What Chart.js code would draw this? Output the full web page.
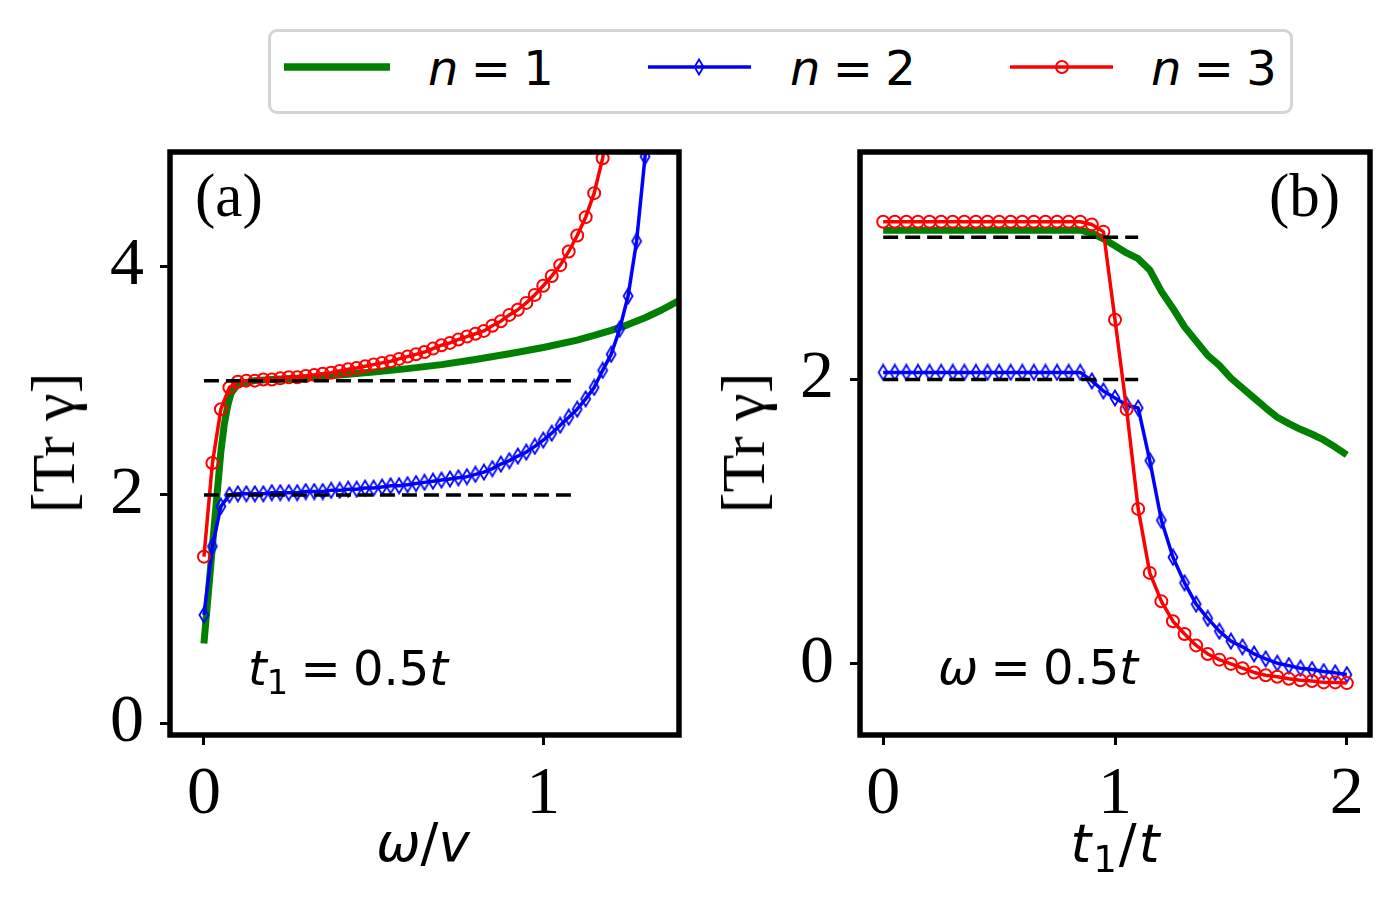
<!DOCTYPE html>
<html><head><meta charset="utf-8">
<script src="https://cdn.jsdelivr.net/npm/chart.js"></script>
<style>
html,body{margin:0;padding:0;background:#fff;}
#wrap{position:relative;width:1400px;height:908px;overflow:hidden;background:#fff;}
canvas{position:absolute;left:0;top:0;}
.t{position:absolute;white-space:nowrap;line-height:1;color:#000;}
.serif{font-family:"Liberation Serif","Times New Roman",serif;}
.sans{font-family:"DejaVu Sans",sans-serif;}
.sub{font-size:0.7em;position:relative;top:0.27em;font-style:normal;}
.ylab{position:absolute;white-space:nowrap;line-height:1;font-family:"Liberation Serif",serif;font-size:62px;transform:translate(-50%,-50%) rotate(-90deg);}
#legend{position:absolute;left:268px;top:29px;width:1025px;height:85px;box-sizing:border-box;border:3px solid #d4d4d4;border-radius:9px;background:#fff;}
.leg{font-size:48px;word-spacing:-3px;}
</style></head>
<body>
<div id="wrap">
  <canvas id="ca" width="1400" height="908"></canvas>
  <canvas id="cb" width="1400" height="908"></canvas>
  <div id="legend"></div>
  <svg style="position:absolute;left:0;top:0" width="1400" height="130">
    <line x1="284" y1="67" x2="390" y2="67" stroke="#008000" stroke-width="7.5"/>
    <line x1="648" y1="67" x2="751" y2="67" stroke="#0000ff" stroke-width="3.5"/>
    <polygon points="699,59.5 703.5,67 699,74.5 694.5,67" fill="none" stroke="#0000ff" stroke-width="1.8"/>
    <line x1="1010" y1="67" x2="1113" y2="67" stroke="#ff0000" stroke-width="3.5"/>
    <circle cx="1062" cy="67" r="6" fill="none" stroke="#ff0000" stroke-width="2"/>
  </svg>
  <div class="t sans leg" style="left:428px;top:44px"><i>n</i> = 1</div>
  <div class="t sans leg" style="left:790px;top:44px"><i>n</i> = 2</div>
  <div class="t sans leg" style="left:1151px;top:44px"><i>n</i> = 3</div>

  <div class="t serif" style="left:195px;top:165px;font-size:61px">(a)</div>
  <div class="t serif" style="left:1269px;top:165px;font-size:61px">(b)</div>
  <div class="t sans" style="left:248px;top:644px;font-size:48px;word-spacing:-3px"><i>t</i><span class="sub">1</span> = 0.5<i>t</i></div>
  <div class="t sans" style="left:938px;top:643px;font-size:48px;word-spacing:-3px"><i>ω</i> = 0.5<i>t</i></div>
  <div class="t sans" style="left:423px;top:816px;font-size:53px;transform:translateX(-50%)"><i>ω</i>/<i>v</i></div>
  <div class="t sans" style="left:1116px;top:817px;font-size:53px;letter-spacing:2px;transform:translateX(-50%)"><i>t</i><span class="sub">1</span>/<i>t</i></div>
  <div class="ylab" style="left:53px;top:443px">[Tr γ]</div>
  <div class="ylab" style="left:743px;top:443px">[Tr γ]</div>
</div>
<script>
// ---------- Panel (a): Tr gamma vs omega/v, t1 = 0.5t ----------
const xA = [0,0.025,0.05,0.075,0.1,0.125,0.15,0.175,0.2,0.225,0.25,0.275,0.3,0.325,0.35,0.375,0.4,0.425,0.45,0.475,0.5,0.525,0.55,0.575,0.6,0.625,0.65,0.675,0.7,0.725,0.75,0.775,0.8,0.825,0.85,0.875,0.9,0.925,0.95,0.975,1.0,1.025,1.05,1.075,1.1,1.125,1.15,1.175,1.2,1.225,1.25,1.275,1.3,1.325];
const redA = [1.46,2.28,2.75,2.94,2.99,3.00,3.00,3.01,3.01,3.02,3.03,3.03,3.04,3.05,3.06,3.07,3.085,3.10,3.11,3.125,3.14,3.155,3.17,3.19,3.21,3.23,3.25,3.28,3.31,3.33,3.36,3.385,3.41,3.435,3.48,3.52,3.575,3.62,3.68,3.75,3.83,3.915,4.01,4.13,4.27,4.43,4.64,4.945,5.4];
const blueA = [0.95,1.55,1.90,2.00,2.01,2.01,2.01,2.01,2.02,2.02,2.02,2.02,2.03,2.03,2.03,2.04,2.04,2.05,2.05,2.06,2.06,2.07,2.08,2.08,2.09,2.10,2.11,2.12,2.13,2.14,2.15,2.16,2.18,2.20,2.23,2.27,2.30,2.34,2.375,2.425,2.48,2.54,2.61,2.68,2.75,2.84,2.94,3.09,3.23,3.45,3.74,4.22,4.96,6.3];
const greenAX = [0,0.01,0.02,0.03,0.04,0.05,0.06,0.07,0.08,0.1,0.15,0.2,0.3,0.4,0.5,0.6,0.7,0.8,0.9,1.0,1.1,1.15,1.2,1.25,1.3,1.35,1.4];
const greenAY = [0.70,1.04,1.38,1.72,2.05,2.38,2.62,2.78,2.89,2.97,3.00,3.01,3.025,3.05,3.075,3.105,3.14,3.185,3.235,3.29,3.355,3.395,3.44,3.49,3.55,3.62,3.70];
const xTicksA = [0,1];
const yTicksA = [0,2,4];

// ---------- Panel (b): Tr gamma vs t1/t, omega = 0.5t ----------
const xB = [0,0.05,0.1,0.15,0.2,0.25,0.3,0.35,0.4,0.45,0.5,0.55,0.6,0.65,0.7,0.75,0.8,0.85,0.9,0.95,1.0,1.05,1.1,1.15,1.2,1.25,1.3,1.35,1.4,1.45,1.5,1.55,1.6,1.65,1.7,1.75,1.8,1.85,1.9,1.95,2.0];
const redB = [3.11,3.11,3.11,3.11,3.11,3.11,3.11,3.11,3.11,3.11,3.11,3.11,3.11,3.11,3.11,3.11,3.11,3.11,3.09,3.04,2.42,1.79,1.09,0.64,0.44,0.30,0.21,0.13,0.07,0.03,0.00,-0.03,-0.06,-0.08,-0.09,-0.105,-0.115,-0.12,-0.13,-0.13,-0.135];
const blueB = [2.05,2.05,2.05,2.05,2.05,2.05,2.05,2.05,2.05,2.05,2.05,2.05,2.05,2.05,2.05,2.05,2.05,2.05,1.99,1.92,1.87,1.82,1.80,1.43,1.01,0.75,0.57,0.42,0.32,0.23,0.16,0.12,0.07,0.035,0.005,-0.012,-0.03,-0.04,-0.054,-0.063,-0.075];
const greenB = [3.05,3.05,3.05,3.05,3.05,3.05,3.05,3.05,3.05,3.05,3.05,3.05,3.05,3.05,3.05,3.05,3.05,3.05,3.03,2.99,2.94,2.89,2.85,2.77,2.62,2.50,2.37,2.27,2.17,2.10,2.01,1.94,1.87,1.80,1.735,1.69,1.65,1.615,1.575,1.525,1.47];
const xTicksB = [0,1,2];
const yTicksB = [0,2];

// reference (dashed) levels
const dashX = [0,1.1];
const dash3 = [3,3];
const dash2 = [2,2];

function pts(xs, ys){ const out=[]; for(let i=0;i<ys.length && i<xs.length;i++) out.push({x:xs[i], y:ys[i]}); return out; }

function diamondImg(){
  const c=document.createElement('canvas'); c.width=14; c.height=18;
  const g=c.getContext('2d'); g.strokeStyle='#0000ff'; g.lineWidth=1.8;
  g.beginPath(); g.moveTo(7,1.5); g.lineTo(11.5,9); g.lineTo(7,16.5); g.lineTo(2.5,9); g.closePath(); g.stroke();
  return c;
}
const diamond = diamondImg();

const framePlugin = { id:'frame', afterDatasetsDraw(chart){
  const {ctx, chartArea:a} = chart; ctx.save(); ctx.strokeStyle='#000'; ctx.lineWidth=5.5;
  ctx.strokeRect(a.left, a.top, a.right-a.left, a.bottom-a.top); ctx.restore(); } };

function datasets(xs, red, blue, gx, gy){
  return [
    {label:'dash3', data:pts(dashX,dash3), showLine:true, borderColor:'#000', borderWidth:3.5, borderDash:[15,7], pointRadius:0, order:0, clip:0},
    {label:'dash2', data:pts(dashX,dash2), showLine:true, borderColor:'#000', borderWidth:3.5, borderDash:[15,7], pointRadius:0, order:0, clip:0},
    {label:'n = 3', data:pts(xs,red), showLine:true, borderColor:'#ff0000', borderWidth:3.5, pointStyle:'circle', pointRadius:6, pointBorderWidth:2, pointBorderColor:'#ff0000', pointBackgroundColor:'rgba(0,0,0,0)', order:1, clip:0},
    {label:'n = 2', data:pts(xs,blue), showLine:true, borderColor:'#0000ff', borderWidth:3.5, pointStyle:diamond, pointRadius:7, order:2, clip:0},
    {label:'n = 1', data:pts(gx,gy), showLine:true, borderColor:'#008000', borderWidth:7, pointRadius:0, order:3, clip:0}
  ];
}

function axis(min, max, ticks, fit, isX){
  return {
    type:'linear', min:min, max:max,
    afterBuildTicks: s => { s.ticks = ticks.map(v=>({value:v})); },
    afterFit: s => { if(isX) s.height = fit; else s.width = fit; },
    grid:{display:true, drawOnChartArea:false, drawTicks:true, tickLength:10, tickWidth:3, tickColor:'#000'},
    border:{display:false},
    ticks:{color:'#000', font:{family:'Liberation Serif', size:68}, padding: isX ? 9 : 16, maxRotation:0, autoSkip:false}
  };
}

function makeChart(id, ds, pad, xmin, xmax, xt, ymin, ymax, yt, yw){
  return new Chart(document.getElementById(id), {
    type:'scatter',
    data:{datasets:ds},
    options:{
      responsive:false, animation:false, events:[],
      layout:{padding:pad},
      plugins:{legend:{display:false}, tooltip:{enabled:false}},
      elements:{line:{tension:0, borderJoinStyle:'round'}},
      scales:{ x: axis(xmin,xmax,xt,173,true), y: axis(ymin,ymax,yt,yw,false) }
    },
    plugins:[framePlugin]
  });
}

makeChart('ca', datasets(xA, redA, blueA, greenAX, greenAY), {left:0, top:152, right:721, bottom:0}, -0.1, 1.4, xTicksA, -0.1, 5.0, yTicksA, 170);
makeChart('cb', datasets(xB, redB, blueB, xB, greenB), {left:700, top:152, right:30, bottom:0}, -0.1, 2.1, xTicksB, -0.5, 3.6, yTicksB, 160);
</script>
</body></html>
